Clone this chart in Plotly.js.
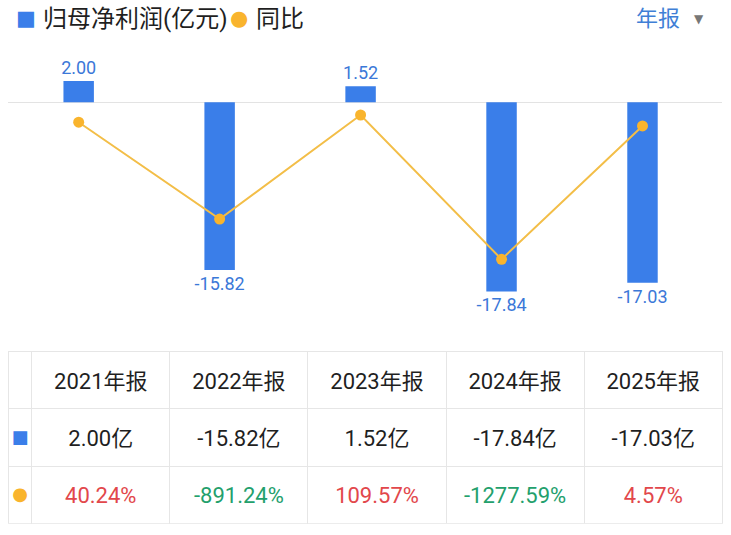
<!DOCTYPE html>
<html>
<head>
<meta charset="utf-8">
<script src="https://cdn.plot.ly/plotly-3.0.1.min.js"></script>
<style>
html,body{margin:0;padding:0;background:#fff;}
#chart{width:731px;height:535px;}
</style>
</head>
<body>
<div id="chart"></div>
<script>
// ---- data ----
const periods = ['2021年报', '2022年报', '2023年报', '2024年报', '2025年报'];
const netProfit = [2.00, -15.82, 1.52, -17.84, -17.03];          // 亿元
const yoy = [40.24, -891.24, 109.57, -1277.59, 4.57];           // %
const profitLabels = ['2.00', '-15.82', '1.52', '-17.84', '-17.03'];
const profitCells = ['2.00亿', '-15.82亿', '1.52亿', '-17.84亿', '-17.03亿'];
const yoyCells = ['40.24%', '-891.24%', '109.57%', '-1277.59%', '4.57%'];
const seriesNames = ['归母净利润(亿元)', '同比'];
const rowMarkers = ['■', '●'];

// ---- styles ----
const BLUE = '#3a7ee9';
const LABEL_BLUE = '#3b78d8';
const ORANGE = '#f9b42d';
const LINE = '#f3be48';
const RED = '#e2474b';
const GREEN = '#23a06c';
const DARK = '#1f1f1f';
const GRID = '#e6e6e6';
const FONT = 'Roboto, "Noto Sans CJK SC", sans-serif';
const SYM = 'DejaVu Sans';

const W = 731, H = 535;
const px = v => v / W;
const py = v => 1 - v / H;

const barTrace = {
  type: 'bar',
  x: periods,
  y: netProfit,
  width: 0.216,
  marker: {color: BLUE},
  text: profitLabels,
  textposition: 'outside',
  constraintext: 'none',
  textfont: {family: FONT, size: 18, color: LABEL_BLUE},
  cliponaxis: false,
  hoverinfo: 'skip',
  name: seriesNames[0],
  xaxis: 'x', yaxis: 'y'
};

const lineTrace = {
  type: 'scatter',
  mode: 'lines+markers',
  x: periods,
  y: yoy,
  line: {color: LINE, width: 2},
  marker: {color: ORANGE, size: 11},
  cliponaxis: false,
  hoverinfo: 'skip',
  name: seriesNames[1],
  xaxis: 'x', yaxis: 'y2'
};

// table: one trace for the grid, one (transparent) for the centred text
const colWidths = [23.4, 138, 138, 138, 138, 138];
const tableX = [px(8.3), px(722.3)];
const emptyCol = ['', ''];

const gridTable = {
  type: 'table',
  domain: {x: tableX, y: [py(524), py(351.7)]},
  columnwidth: colWidths,
  header: {
    values: [''].concat(periods.map(() => '')),
    height: 57,
    line: {color: GRID, width: 1},
    fill: {color: '#ffffff'}
  },
  cells: {
    values: [emptyCol].concat(periods.map(() => emptyCol)),
    height: 57.5,
    line: {color: GRID, width: 1},
    fill: {color: '#ffffff'}
  }
};

const cellColors = [[BLUE, ORANGE]];
const pctColors = yoy.map(v => v >= 0 ? RED : GREEN);
for (let i = 0; i < periods.length; i++) cellColors.push([DARK, pctColors[i]]);

const textTable = {
  type: 'table',
  domain: {x: tableX, y: [0, py(364.2)]},
  columnwidth: colWidths,
  header: {
    values: [''].concat(periods),
    align: 'center',
    height: 57,
    line: {color: 'rgba(0,0,0,0)', width: 0},
    fill: {color: 'rgba(0,0,0,0)'},
    font: {family: FONT, size: 22, color: DARK}
  },
  cells: {
    values: [rowMarkers].concat(periods.map((p, i) => [profitCells[i], yoyCells[i]])),
    align: 'center',
    height: 56.8,
    line: {color: 'rgba(0,0,0,0)', width: 0},
    fill: {color: 'rgba(0,0,0,0)'},
    font: {
      family: [SYM, FONT, FONT, FONT, FONT, FONT],
      size: [18, 22, 22, 22, 22, 22],
      color: cellColors
    }
  }
};

const layout = {
  width: W, height: H,
  margin: {l: 0, r: 0, t: 0, b: 0},
  paper_bgcolor: '#ffffff',
  plot_bgcolor: '#ffffff',
  showlegend: false,
  font: {family: FONT},
  xaxis: {
    type: 'category',
    domain: [px(8.2), px(722)],
    range: [-0.5, 4.564],
    showticklabels: false, showgrid: false, zeroline: false, showline: false, ticks: ''
  },
  yaxis: {
    domain: [py(340), py(45)],
    range: [-22.42, 5.406],
    showticklabels: false, showgrid: false, showline: false, ticks: '',
    zeroline: true, zerolinecolor: '#e3e3e3', zerolinewidth: 1
  },
  yaxis2: {
    overlaying: 'y',
    range: [-2053.3, 782.5],
    showticklabels: false, showgrid: false, showline: false, ticks: '', zeroline: false
  },
  annotations: [
    {xref: 'paper', yref: 'paper', x: px(25.5), y: py(18), xanchor: 'center', yanchor: 'middle',
     text: rowMarkers[0], showarrow: false, font: {family: SYM, size: 21, color: BLUE}},
    {xref: 'paper', yref: 'paper', x: px(41), y: py(19), xanchor: 'left', yanchor: 'middle',
     text: seriesNames[0], showarrow: false, font: {family: FONT, size: 24, color: DARK}},
    {xref: 'paper', yref: 'paper', x: px(239.5), y: py(18), xanchor: 'center', yanchor: 'middle',
     text: rowMarkers[1], showarrow: false, font: {family: SYM, size: 21, color: ORANGE}},
    {xref: 'paper', yref: 'paper', x: px(254), y: py(19), xanchor: 'left', yanchor: 'middle',
     text: seriesNames[1], showarrow: false, font: {family: FONT, size: 24, color: DARK}},
    {xref: 'paper', yref: 'paper', x: px(634), y: py(19), xanchor: 'left', yanchor: 'middle',
     text: '年报', showarrow: false, font: {family: FONT, size: 22, color: '#3f7fd6'}},
    {xref: 'paper', yref: 'paper', x: px(699), y: py(19), xanchor: 'center', yanchor: 'middle',
     text: '▼', showarrow: false, font: {family: SYM, size: 12, color: '#777777'}}
  ]
};

Plotly.newPlot('chart', [barTrace, lineTrace, gridTable, textTable], layout, {displayModeBar: false, staticPlot: true});
</script>
</body>
</html>
